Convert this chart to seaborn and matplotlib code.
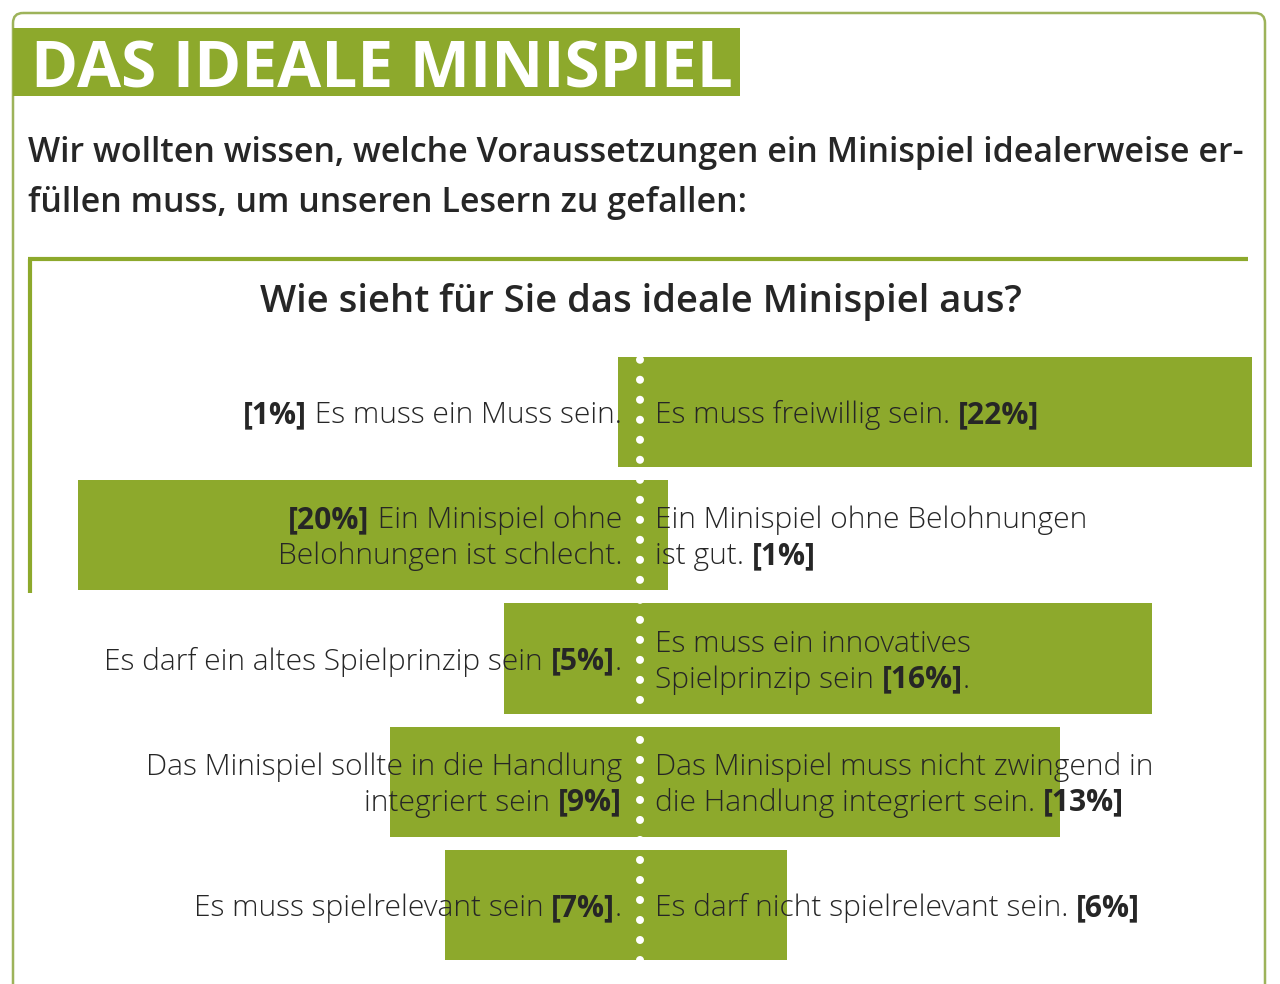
import numpy as np
import pandas as pd
import seaborn as sns
import matplotlib.pyplot as plt
from matplotlib.patches import Rectangle, FancyBboxPatch

# Daten
rows = ['Pflicht', 'Belohnungen', 'Spielprinzip', 'Handlung', 'Relevanz']
left_pct = [1, 20, 5, 9, 7]
right_pct = [22, 1, 16, 13, 6]
# Balkenlängen so wie gezeichnet (weichen teils von den Prozentwerten ab)
left_bar = [0.8, 20.2, 4.9, 9.0, 7.0]
right_bar = [22.0, 1.0, 18.4, 15.1, 5.3]

left_text = [
    ['**[{p}%]** Es muss ein Muss sein.'],
    ['**[{p}%]** Ein Minispiel ohne', 'Belohnungen ist schlecht.'],
    ['Es darf ein altes Spielprinzip sein **[{p}%]**.'],
    ['Das Minispiel sollte in die Handlung', 'integriert sein **[{p}%]**'],
    ['Es muss spielrelevant sein **[{p}%]**.'],
]
right_text = [
    ['Es muss freiwillig sein. **[{p}%]**'],
    ['Ein Minispiel ohne Belohnungen', 'ist gut. **[{p}%]**'],
    ['Es muss ein innovatives', 'Spielprinzip sein **[{p}%]**.'],
    ['Das Minispiel muss nicht zwingend in', 'die Handlung integriert sein. **[{p}%]**'],
    ['Es darf nicht spielrelevant sein. **[{p}%]**'],
]

heading = 'DAS IDEALE MINISPIEL'
intro = ['Wir wollten wissen, welche Voraussetzungen ein Minispiel idealerweise er-',
         'füllen muss, um unseren Lesern zu gefallen:']
question = 'Wie sieht für Sie das ideale Minispiel aus?'

GREEN = '#8DA92C'
FRAME = '#9DB35A'
DARK = '#262626'
W, H = 1280, 984
px_per_pct = 27.8
center_x = 640
row_top, row_step = 350.4, 123.25

sns.set_theme(style='white')
plt.rcParams['font.family'] = ['Open Sans', 'DejaVu Sans']

fig = plt.figure(figsize=(W / 100, H / 100), dpi=100)

# Balken-Achse
ax_bottom = H - (row_top + row_step * len(rows))
ax = fig.add_axes([0, ax_bottom / H, 1, row_step * len(rows) / H])
df = pd.DataFrame({'row': rows, 'left': -np.array(left_bar), 'right': right_bar})
sns.barplot(data=df, x='left', y='row', orient='h', color=GREEN, saturation=1,
            width=0.893, linewidth=0, ax=ax)
sns.barplot(data=df, x='right', y='row', orient='h', color=GREEN, saturation=1,
            width=0.893, linewidth=0, ax=ax)
ax.set_xlim(-center_x / px_per_pct, (W - center_x) / px_per_pct)
ax.set_ylim(len(rows) - 0.5, -0.5)
ax.axis('off')

# gepunktete Mittellinie
span = row_step * len(rows)
ax.axvline(0, ymin=(row_top + span - 960) / span, ymax=(row_top + span - 357) / span,
           color='white', lw=5.8, linestyle=(0, (0.001, 20 * 0.72 / 5.8)),
           dash_capstyle='round')

# Overlay in Pixelkoordinaten
ov = fig.add_axes([0, 0, 1, 1], facecolor='none')
ov.set_xlim(0, W)
ov.set_ylim(H, 0)
ov.axis('off')

ov.add_patch(FancyBboxPatch((13, 13), 1252, 1000, boxstyle='round,pad=0,rounding_size=10',
                            fill=False, edgecolor=FRAME, lw=1.8))
ov.add_patch(Rectangle((13, 28), 727, 68, color=GREEN, lw=0))
ov.text(31, 88, heading, color='white', fontsize=46, fontweight='bold', va='baseline')
for i, line in enumerate(intro):
    ov.text(28, 162 + 50 * i, line, color=DARK, fontsize=24.5, fontweight='semibold',
            va='baseline')
ov.plot([28, 1248], [259, 259], color=GREEN, lw=3, solid_capstyle='butt')
ov.plot([30, 30], [259, 593], color=GREEN, lw=3, solid_capstyle='butt')
ov.text(641, 312, question, color=DARK, fontsize=27.5, fontweight='semibold',
        ha='center', va='baseline')

renderer = fig.canvas.get_renderer()
LABEL_SIZE = 21.6


def seg_width(s, weight):
    a = ov.text(0, 0, s + '|', fontsize=LABEL_SIZE, fontweight=weight)
    b = ov.text(0, 0, '|', fontsize=LABEL_SIZE, fontweight=weight)
    w = a.get_window_extent(renderer).width - b.get_window_extent(renderer).width
    a.remove()
    b.remove()
    return w


def draw_line(line, x, y, align):
    parts = line.split('**')
    segs = [(p, 'bold' if k % 2 else 'light') for k, p in enumerate(parts) if p]
    widths = [seg_width(s, wt) for s, wt in segs]
    if align == 'right':
        x = x - sum(widths)
    for (s, wt), w in zip(segs, widths):
        ov.text(x, y, s, fontsize=LABEL_SIZE, fontweight=wt, color=DARK, va='baseline')
        x += w


for i in range(len(rows)):
    cy = row_top + row_step * (i + 0.5)
    for lines, p, x, align in [(left_text[i], left_pct[i], 622, 'right'),
                               (right_text[i], right_pct[i], 655, 'left')]:
        n = len(lines)
        for k, line in enumerate(lines):
            y = cy + (k - (n - 1) / 2) * 36 + 11
            draw_line(line.format(p=p), x, y, align)

fig.savefig('out.png', dpi=100)
